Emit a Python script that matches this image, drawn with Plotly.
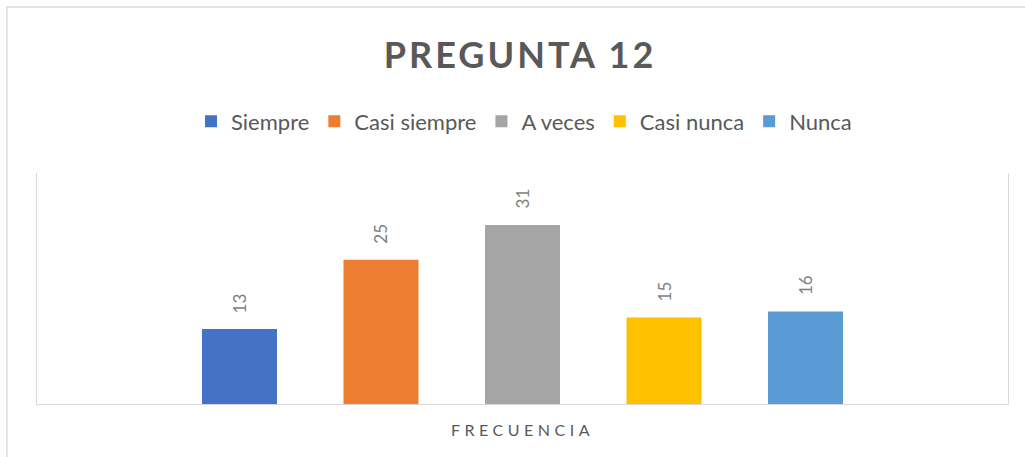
import plotly.graph_objects as go

categories = ["Siempre", "Casi siempre", "A veces", "Casi nunca", "Nunca"]
values = [13, 25, 31, 15, 16]
colors = ["#4472C4", "#ED7D31", "#A5A5A5", "#FFC000", "#5B9BD5"]
title_text = "PREGUNTA 12"
axis_label = "FRECUENCIA"

W, H = 1025, 457
ML, MR, MT, MB = 37, 17, 173, 53
pw = W - ML - MR
ph = H - MT - MB

fig = go.Figure()
for c, v, col in zip(categories, values, colors):
    fig.add_trace(go.Bar(
        x=[c], y=[v], name=c, marker=dict(color=col, line=dict(width=0)),
        width=0.53, hoverinfo="skip",
    ))

annotations = []
for c, v in zip(categories, values):
    annotations.append(dict(
        x=c, y=v, xref="x", yref="y", text=str(v), showarrow=False,
        textangle=-90, yanchor="bottom", xanchor="center", yshift=14,
        font=dict(family="Lato", size=17, color="#7F7F7F"),
    ))

# outer chart border (light gray)
shapes = [dict(
    type="rect", xref="paper", yref="paper",
    x0=(7 - ML) / pw, x1=(W + 10 - ML) / pw,
    y0=-(H + 10 - MT - ph) / ph, y1=(H - MB - 7) / ph,
    line=dict(color="#D9D9D9", width=1.3), fillcolor="rgba(0,0,0,0)", layer="below",
)]

fig.update_layout(
    width=W, height=H,
    margin=dict(l=ML, r=MR, t=MT, b=MB, pad=0),
    paper_bgcolor="white", plot_bgcolor="white",
    barmode="overlay",
    title=dict(text="<b>" + title_text + "</b>", x=520 / W, xanchor="center", xref="container",
               y=1 - 55 / H, yanchor="middle", yref="container",
               font=dict(family="Lato", size=36, color="#595959")),
    legend=dict(orientation="h", x=(524 - ML) / pw, xanchor="center",
                y=(H - MB - 121.5) / ph, yanchor="middle",
                font=dict(family="Lato", size=22, color="#595959"),
                bgcolor="rgba(0,0,0,0)", itemclick=False, itemdoubleclick=False),
    xaxis=dict(range=[-1.431, 5.431], showticklabels=False, ticks="", showgrid=False,
               zeroline=False, showline=True, linecolor="#D9D9D9", linewidth=1.3,
               title=dict(text=axis_label, standoff=20,
                          font=dict(family="Lato", size=16, color="#595959"))),
    yaxis=dict(range=[0, 40], showticklabels=False, ticks="", showgrid=False,
               zeroline=False, showline=True, mirror=True, linecolor="#D9D9D9", linewidth=1.3),
    annotations=annotations,
    shapes=shapes,
    showlegend=True,
)

post = """
var s = document.createElement('style');
s.textContent = 'html,body{margin:0;padding:0;overflow:hidden;} .gtitle{letter-spacing:3px;} .xtitle{letter-spacing:4.5px;}';
document.head.appendChild(s);
"""
fig.write_html("out.html", post_script=post, config={"displayModeBar": False})
